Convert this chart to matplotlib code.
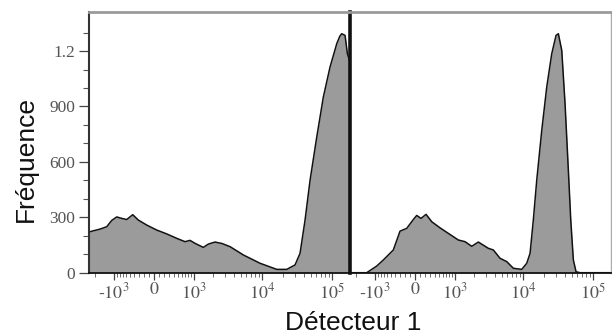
import numpy as np
import matplotlib
matplotlib.use("Agg")
import matplotlib.pyplot as plt

plt.rcParams["mathtext.fontset"] = "stix"

# histogram outlines: detector value, frequency
left_x = [-2420, -2183, -1658, -1309, -1090, -901, -736, -592, -439, -312, -140,
          51, 249, 473, 697, 856, 1038, 1406, 1676, 2111, 2676, 3497, 5440, 9446,
          16360, 22720, 29850, 35200, 41500, 48940, 61000, 75700, 94400, 117700,
          130000, 138700, 154700, 167000, 179000]
left_f = [220, 225, 236, 249, 283, 302, 294, 288, 314, 285, 258,
          231, 210, 186, 168, 175, 159, 137, 155, 166, 158, 141, 96, 51,
          18, 18, 42, 105, 285, 501, 735, 951, 1114, 1240,
          1280, 1294, 1285, 1186, 1150]

right_x = [-2420, -1357, -937, -718, -449, -297, -160, -32, 32, 115, 214, 334,
           530, 822, 1131, 1441, 1821, 2284, 3198, 3776, 4716, 5884, 7323, 9659,
           11380, 12700, 14140, 15820, 18660, 21990, 25920, 29860, 32220, 36030,
           40140, 44760, 48450, 52770, 57660, 65800, 182000]
right_f = [0, 0, 36, 69, 123, 225, 240, 288, 310, 294, 316, 276,
           243, 207, 177, 168, 143, 166, 132, 123, 78, 60, 24, 18,
           51, 105, 285, 501, 771, 1006, 1186, 1285, 1294, 1204,
           916, 555, 285, 69, 5, 0, 0]

x_ticks = [-1000, 0, 1000, 10000, 100000]
x_labels = ["-$10^{3}$", "$0$", "$10^{3}$", "$10^{4}$", "$10^{5}$"]
y_ticks = [0, 300, 600, 900, 1200]
y_labels = ["0", "300", "600", "900", "1.2"]

C = 578.0


def fwd(x):
    return np.arcsinh(np.asarray(x) / C)


def inv(u):
    return C * np.sinh(np.asarray(u))


minor = []
for dec in [100, 1000, 10000, 100000]:
    for m in range(1 if dec == 100 else 2, 10):
        minor += [m * dec, -m * dec]
minor = [v for v in minor if -2420 < v < 182000]

fig = plt.figure(figsize=(6.12, 3.36), dpi=100)
w = 261 / 612
ax1 = fig.add_axes([89 / 612, 1 - 272.7 / 336, w, 260.4 / 336])
ax2 = fig.add_axes([350 / 612, 1 - 272.7 / 336, w, 260.4 / 336])

for ax, xs, fs in [(ax1, left_x, left_f), (ax2, right_x, right_f)]:
    ax.set_xscale("function", functions=(fwd, inv))
    ax.fill_between(xs, fs, 0, color="#9b9b9b", lw=0)
    ax.plot(xs, fs, color="#111111", lw=1.1)
    ax.set_xlim(-2420, 182000)
    ax.set_ylim(0, 1410)
    ax.set_xticks(x_ticks)
    ax.set_xticklabels(x_labels, fontsize=13, color="#555555", family="STIXGeneral")
    ax.set_xticks(minor, minor=True)
    ax.tick_params(axis="x", which="major", direction="out", length=5, width=0.9,
                   color="#444444", pad=2)
    ax.tick_params(axis="x", which="minor", direction="out", length=3, width=0.6,
                   color="#555555")
    ax.spines["top"].set_color("#9a9a9a")
    ax.spines["top"].set_linewidth(2)
    ax.spines["bottom"].set_color("#111111")
    ax.spines["bottom"].set_linewidth(1.3)

ax1.set_yticks(y_ticks)
ax1.set_yticklabels(y_labels, fontsize=12.5, color="#555555", family="Liberation Serif")
ax1.set_yticks(np.arange(100, 1400, 100), minor=True)
ax1.tick_params(axis="y", which="major", direction="out", length=7, width=0.9,
                color="#444444", pad=3)
ax1.tick_params(axis="y", which="minor", direction="out", length=4, width=0.8,
                color="#555555")
ax1.spines["left"].set_color("#333333")
ax1.spines["left"].set_linewidth(1.5)
ax1.spines["right"].set_color("#111111")
ax1.spines["right"].set_linewidth(2.6)
ax1.set_zorder(2)
ax1.patch.set_visible(False)

ax2.set_yticks([])
ax2.spines["left"].set_visible(False)
ax2.spines["right"].set_color("#aaaaaa")
ax2.spines["right"].set_linewidth(1.0)

fig.text(26 / 612, 1 - 159 / 336, "Fréquence", rotation=90, ha="center", va="center",
         fontsize=19, family="Liberation Sans", color="#111111")
fig.text(353 / 612, 1 - 330 / 336, "Détecteur 1", ha="center", va="baseline",
         fontsize=19, family="Liberation Sans", color="#111111")

fig.savefig("out.png", dpi=100)
